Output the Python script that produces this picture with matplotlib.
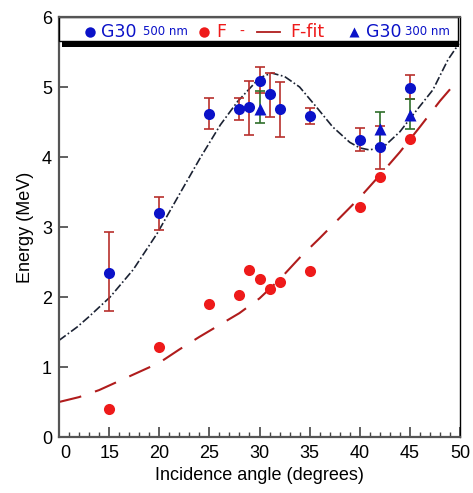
import numpy as np
import matplotlib
matplotlib.use("Agg")
import matplotlib.pyplot as plt
from matplotlib.patches import Rectangle
from matplotlib.lines import Line2D
from matplotlib.transforms import ScaledTranslation

# --- data ---
g500_x = [15, 20, 25, 28, 29, 30, 31, 32, 35, 40, 42, 45]
g500_y = [2.35, 3.20, 4.61, 4.69, 4.71, 5.09, 4.90, 4.69, 4.59, 4.24, 4.14, 4.98]
g500_lo = [1.80, 2.96, 4.40, 4.53, 4.31, 4.92, 4.57, 4.28, 4.47, 4.08, 3.83, 4.83]
g500_hi = [2.93, 3.43, 4.84, 4.84, 5.09, 5.28, 5.20, 5.07, 4.70, 4.41, 4.45, 5.17]

g300_x = [30, 42, 45]
g300_y = [4.68, 4.40, 4.60]
g300_lo = [4.49, 4.16, 4.40]
g300_hi = [4.94, 4.64, 4.83]

f_x = [15, 20, 25, 28, 29, 30, 31, 32, 35, 40, 42, 45]
f_y = [0.40, 1.29, 1.90, 2.03, 2.39, 2.26, 2.11, 2.21, 2.37, 3.29, 3.71, 4.26]

# fit curves
gfit_x = [10, 11.8, 13, 15.1, 17.4, 19.8, 22.1, 24.1, 26.1, 27.8, 30, 31.2, 32.5,
          34, 35.7, 37.3, 39, 40, 41, 42.5, 44, 45.3, 47.3, 48.8, 49.9]
gfit_y = [1.38, 1.57, 1.72, 2.00, 2.39, 2.91, 3.49, 3.99, 4.46, 4.79, 5.13, 5.20, 5.15,
          5.00, 4.71, 4.43, 4.21, 4.13, 4.10, 4.16, 4.36, 4.60, 4.96, 5.39, 5.62]

ffit_x = [10, 12, 14, 16, 18, 20, 22, 24, 26, 28, 30, 32, 34, 36, 38, 40, 42, 44, 46, 48, 49.2]
ffit_y = [0.50, 0.57, 0.67, 0.80, 0.93, 1.06, 1.25, 1.43, 1.60, 1.77, 1.98, 2.25, 2.56,
          2.84, 3.13, 3.42, 3.74, 4.07, 4.43, 4.80, 5.00]

xticks = [10, 15, 20, 25, 30, 35, 40, 45, 50]
xtick_labels = ["0", "15", "20", "25", "30", "35", "40", "45", "50"]
yticks = [0, 1, 2, 3, 4, 5, 6]

BLUE = "#0b12c8"
RED = "#ee1a1a"
ERR_RED = "#b8302c"
ERR_GREEN = "#2f6e2a"
FIT_RED = "#b01c1c"
FIT_DARK = "#1b2233"

plt.rcParams["font.family"] = ["Liberation Sans", "DejaVu Sans"]

fig = plt.figure(figsize=(4.73, 4.93), dpi=100)
ax = fig.add_axes([59 / 473, 1 - 437 / 493, 401 / 473, 420 / 493])

# fits
ax.plot(gfit_x, gfit_y, color=FIT_DARK, lw=1.2, ls=(0, (5, 1.5, 1, 1.5)), zorder=2)
ax.plot(ffit_x, ffit_y, color=FIT_RED, lw=1.5, ls=(0, (11, 7)), zorder=2)

# error bars
g500_err = [np.array(g500_y) - np.array(g500_lo), np.array(g500_hi) - np.array(g500_y)]
g300_err = [np.array(g300_y) - np.array(g300_lo), np.array(g300_hi) - np.array(g300_y)]
ax.errorbar(g500_x, g500_y, yerr=g500_err, fmt="none", ecolor=ERR_RED, elinewidth=1.2,
            capsize=3.5, capthick=1.2, zorder=3)
ax.errorbar(g300_x, g300_y, yerr=g300_err, fmt="none", ecolor=ERR_GREEN, elinewidth=1.2,
            capsize=3.5, capthick=1.2, zorder=3)

# markers
ax.plot(f_x, f_y, "o", color=RED, ms=8, mec="none", zorder=4)
ax.plot(g500_x, g500_y, "o", color=BLUE, ms=8, mec="none", zorder=5)
ax.plot(g300_x, g300_y, "^", color=BLUE, ms=8.5, mec="none", zorder=5)

ax.set_xlim(10, 50)
ax.set_ylim(0, 6)
ax.set_xticks(xticks)
ax.set_xticklabels(xtick_labels)
ax.set_xticks(np.arange(10, 51, 1), minor=True)
ax.set_yticks(yticks)

ax.tick_params(axis="x", which="major", direction="in", length=7, width=1.2, color="#444444",
               labelsize=13, pad=6)
ax.tick_params(axis="x", which="minor", direction="in", length=3.8, width=1.0, color="#444444")
ax.tick_params(axis="y", which="major", direction="in", length=6.5, width=1.2, color="#444444",
               labelsize=13, pad=5)
ax.tick_params(axis="y", which="minor", left=False)

for s in ["left", "bottom", "top"]:
    ax.spines[s].set_color("#555555")
    ax.spines[s].set_linewidth(1.6)
ax.spines["top"].set_zorder(12)
ax.spines["right"].set_color("black")
ax.spines["right"].set_linewidth(1.0)

# first x label sits a bit right of its tick
lbl = ax.get_xticklabels()[0]
lbl.set_transform(lbl.get_transform() + ScaledTranslation(6 / 100, 0, fig.dpi_scale_trans))

ax.set_xlabel("Incidence angle (degrees)", fontsize=13, labelpad=3)
ax.set_ylabel("Energy (MeV)", fontsize=13, labelpad=6)

# --- legend box drawn by hand ---
shadow = Rectangle((0.007, 0.929), 0.990, 0.06, transform=ax.transAxes, facecolor="black",
                   edgecolor="none", clip_on=False, zorder=9)
box = Rectangle((0.0, 0.943), 0.995, 0.057, transform=ax.transAxes, facecolor="white",
                edgecolor="black", lw=1.0, clip_on=False, zorder=10)
ax.add_patch(shadow)
ax.add_patch(box)

ly = 0.965
lf = ["DejaVu Sans"]
ax.plot([0.077], [ly], "o", color=BLUE, ms=7.5, mec="none", transform=ax.transAxes,
        clip_on=False, zorder=11)
ax.text(0.105, ly, "G30", color=BLUE, fontsize=12.5, family=lf, va="center", ha="left",
        transform=ax.transAxes, zorder=11)
ax.text(0.209, ly, "500 nm", color=BLUE, fontsize=8.5, family=lf, va="center", ha="left",
        transform=ax.transAxes, zorder=11)
ax.plot([0.362], [ly], "o", color=RED, ms=7.5, mec="none", transform=ax.transAxes,
        clip_on=False, zorder=11)
ax.text(0.392, ly, "F", color=RED, fontsize=12.5, family=lf, va="center", ha="left",
        transform=ax.transAxes, zorder=11)
ax.text(0.456, ly, "-", color=RED, fontsize=10, family=lf, va="center", ha="center",
        transform=ax.transAxes, zorder=11)
ax.add_line(Line2D([0.494, 0.551], [ly, ly], color=FIT_RED, lw=1.3, transform=ax.transAxes,
                   clip_on=False, zorder=11))
ax.text(0.576, ly, "F-fit", color=RED, fontsize=12.5, family=lf, va="center", ha="left",
        transform=ax.transAxes, zorder=11)
ax.plot([0.736], [ly], "^", color=BLUE, ms=7.5, mec="none", transform=ax.transAxes,
        clip_on=False, zorder=11)
ax.text(0.766, ly, "G30", color=BLUE, fontsize=12.5, family=lf, va="center", ha="left",
        transform=ax.transAxes, zorder=11)
ax.text(0.863, ly, "300 nm", color=BLUE, fontsize=8.5, family=lf, va="center", ha="left",
        transform=ax.transAxes, zorder=11)

fig.savefig("out.png", dpi=100)
